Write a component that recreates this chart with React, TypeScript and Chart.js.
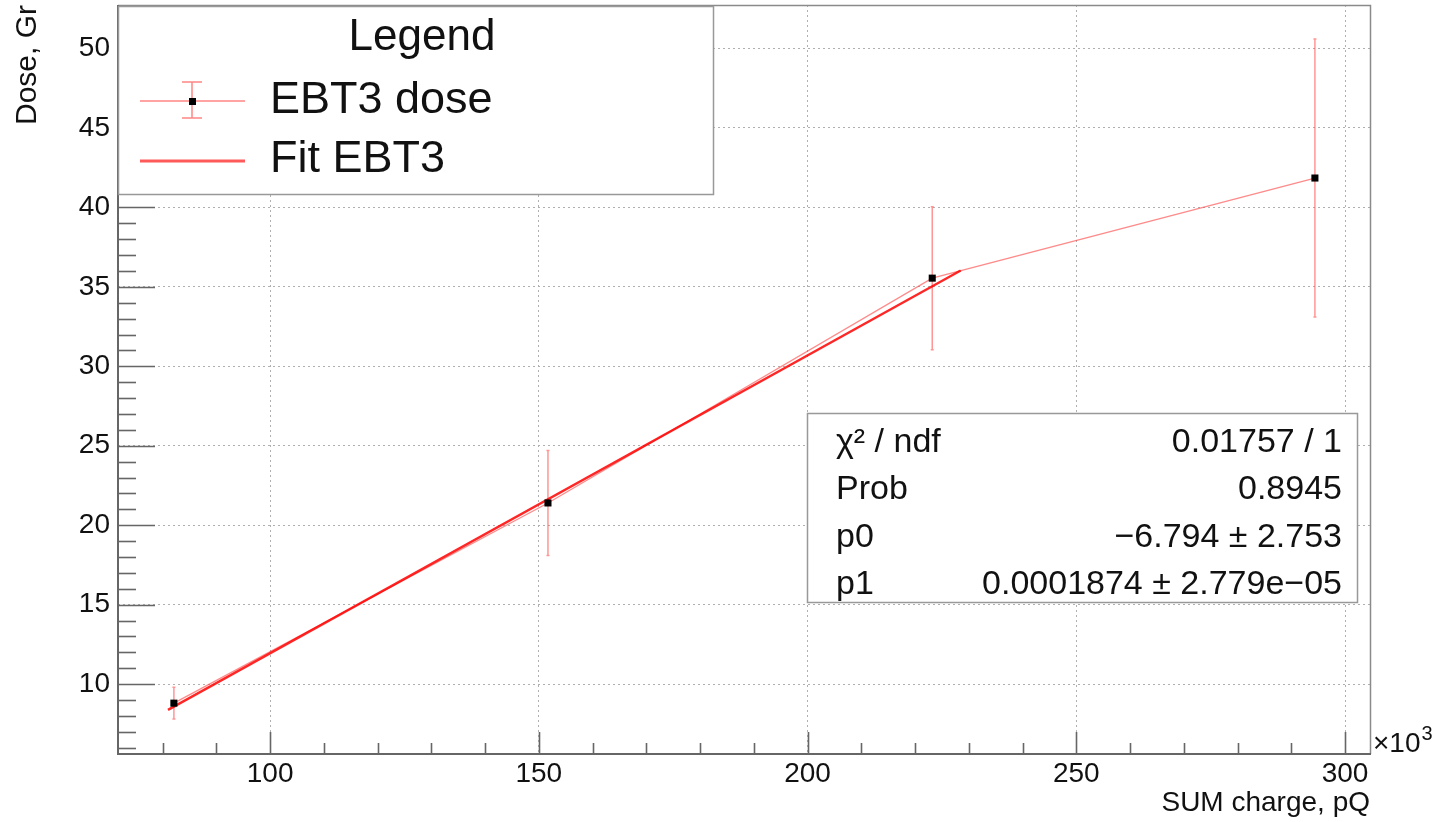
import React, { useEffect, useRef } from 'react';
import { Chart, registerables } from 'chart.js';

Chart.register(...registerables);

// ---- data ----
const chargeK = [82.1, 151.7, 223.2, 294.4]; // SUM charge, pQ (x10^3)
const dose = [8.8, 21.4, 35.55, 41.85]; // Dose, Gr
const doseErr = [1.0, 3.3, 4.5, 8.75];
const fitX = [81.0, 228.5];
const fitY = [8.38, 36.03];
const xMajorTicks = [100, 150, 200, 250, 300];
const yMajorTicks = [10, 15, 20, 25, 30, 35, 40, 45, 50];
const statsLabels = ['χ² / ndf', 'Prob', 'p0', 'p1'];
const statsValues = ['0.01757 / 1', '0.8945', '−6.794 ± 2.753', '0.0001874 ± 2.779e−05'];
const legendTitle = 'Legend';
const legendLabels = ['EBT3 dose', 'Fit EBT3'];
const xTitle = 'SUM charge, pQ';
const yTitle = 'Dose, Gr';

const FONT = '"Liberation Sans", Arial, Helvetica, sans-serif';

const rootStyle = {
  id: 'rootStyle',
  beforeDatasetsDraw(chart: any) {
    const { ctx, chartArea: a, scales } = chart;
    const x = scales.x;
    const y = scales.y;
    ctx.save();

    // tick marks (inside, ROOT style)
    ctx.strokeStyle = '#666';
    ctx.lineWidth = 1.6;
    for (let v = 80; v <= 300; v += 10) {
      const px = Math.round(x.getPixelForValue(v)) + 0.5;
      const len = v % 50 === 0 ? 22 : 11;
      ctx.beginPath();
      ctx.moveTo(px, a.bottom);
      ctx.lineTo(px, a.bottom - len);
      ctx.stroke();
    }
    for (let v = 6; v <= 52; v += 1) {
      const py = Math.round(y.getPixelForValue(v)) + 0.5;
      const len = v % 5 === 0 ? 37 : 18;
      ctx.beginPath();
      ctx.moveTo(a.left, py);
      ctx.lineTo(a.left + len, py);
      ctx.stroke();
    }

    // frame
    ctx.strokeStyle = '#8a8a8a';
    ctx.lineWidth = 1.5;
    ctx.beginPath();
    ctx.moveTo(a.left, a.top + 0.5);
    ctx.lineTo(a.right + 0.5, a.top + 0.5);
    ctx.lineTo(a.right + 0.5, a.bottom);
    ctx.stroke();
    ctx.strokeStyle = '#666';
    ctx.lineWidth = 2;
    ctx.beginPath();
    ctx.moveTo(a.left, a.top);
    ctx.lineTo(a.left, a.bottom);
    ctx.lineTo(a.right + 1, a.bottom);
    ctx.stroke();

    // error bars
    ctx.strokeStyle = 'rgba(255,80,80,0.6)';
    ctx.lineWidth = 1.5;
    chargeK.forEach((cx, i) => {
      const px = x.getPixelForValue(cx);
      const top = y.getPixelForValue(dose[i] + doseErr[i]);
      const bot = y.getPixelForValue(dose[i] - doseErr[i]);
      ctx.beginPath();
      ctx.moveTo(px, top);
      ctx.lineTo(px, bot);
      ctx.moveTo(px - 1.5, top);
      ctx.lineTo(px + 1.5, top);
      ctx.moveTo(px - 1.5, bot);
      ctx.lineTo(px + 1.5, bot);
      ctx.stroke();
    });
    ctx.restore();
  },
  afterDraw(chart: any) {
    const { ctx, chartArea: a } = chart;
    ctx.save();

    // x10^3
    ctx.fillStyle = '#111';
    ctx.textBaseline = 'alphabetic';
    ctx.textAlign = 'left';
    ctx.font = `28px ${FONT}`;
    const base = '×10';
    ctx.fillText(base, a.right + 3, a.bottom - 2);
    const w = ctx.measureText(base).width;
    ctx.font = `20px ${FONT}`;
    ctx.fillText('3', a.right + 3 + w + 1, a.bottom - 14);

    // legend box
    const lx = 118.5, ly = 6.5, lw = 595, lh = 188;
    ctx.fillStyle = '#fff';
    ctx.fillRect(lx, ly, lw, lh);
    ctx.strokeStyle = '#999';
    ctx.lineWidth = 1.5;
    ctx.strokeRect(lx, ly, lw, lh);

    ctx.fillStyle = '#111';
    ctx.font = `44px ${FONT}`;
    ctx.textAlign = 'center';
    ctx.fillText(legendTitle, 422, 50);
    ctx.font = `45px ${FONT}`;
    ctx.textAlign = 'left';
    ctx.fillText(legendLabels[0], 270, 113);
    ctx.fillText(legendLabels[1], 270, 172);

    // symbol: graph with error bar
    ctx.strokeStyle = 'rgba(255,80,80,0.7)';
    ctx.lineWidth = 1.5;
    ctx.beginPath();
    ctx.moveTo(140, 101);
    ctx.lineTo(245, 101);
    ctx.moveTo(192, 82);
    ctx.lineTo(192, 118);
    ctx.moveTo(182, 82);
    ctx.lineTo(202, 82);
    ctx.moveTo(182, 118);
    ctx.lineTo(202, 118);
    ctx.stroke();
    ctx.fillStyle = '#000';
    ctx.fillRect(189, 98, 7, 7);
    // symbol: fit line
    ctx.strokeStyle = '#ff5a5a';
    ctx.lineWidth = 3;
    ctx.beginPath();
    ctx.moveTo(140, 161);
    ctx.lineTo(245, 161);
    ctx.stroke();

    // stats box
    const sx = 807.5, sy = 413.5, sw = 550, sh = 189;
    ctx.fillStyle = '#fff';
    ctx.fillRect(sx, sy, sw, sh);
    ctx.strokeStyle = '#999';
    ctx.lineWidth = 1.5;
    ctx.strokeRect(sx, sy, sw, sh);
    ctx.fillStyle = '#111';
    ctx.font = `34px ${FONT}`;
    const baselines = [452, 499, 547, 594];
    statsLabels.forEach((t, i) => {
      ctx.textAlign = 'left';
      ctx.fillText(t, 836, baselines[i]);
      ctx.textAlign = 'right';
      ctx.fillText(statsValues[i], 1342, baselines[i]);
    });
    ctx.restore();
  },
};

export default function App() {
  const ref = useRef<HTMLCanvasElement | null>(null);

  useEffect(() => {
    const canvas = ref.current;
    if (!canvas) return;
    const chart = new Chart(canvas, {
      type: 'scatter',
      data: {
        datasets: [
          {
            label: 'EBT3 dose',
            data: chargeK.map((v, i) => ({ x: v, y: dose[i] })),
            showLine: false,
            pointStyle: 'rect',
            pointRadius: 5,
            pointBackgroundColor: '#000',
            pointBorderWidth: 0,
          },
          {
            label: 'Fit EBT3',
            data: fitX.map((v, i) => ({ x: v, y: fitY[i] })),
            showLine: true,
            borderColor: 'rgba(255,0,0,0.85)',
            borderWidth: 2.4,
            pointRadius: 0,
          },
          {
            label: 'graph line',
            data: chargeK.map((v, i) => ({ x: v, y: dose[i] })),
            showLine: true,
            borderColor: 'rgba(255,60,60,0.6)',
            borderWidth: 1.3,
            pointRadius: 0,
          },
        ],
      },
      options: {
        responsive: false,
        animation: false,
        devicePixelRatio: 1,
        layout: { padding: { left: 0, top: 5, right: 72, bottom: 0 } },
        plugins: {
          legend: { display: false },
          tooltip: { enabled: false },
        },
        scales: {
          x: {
            type: 'linear',
            min: 71.7,
            max: 304.65,
            afterBuildTicks: (s: any) => {
              s.ticks = xMajorTicks.map((v) => ({ value: v }));
            },
            afterFit: (s: any) => {
              s.height = 68;
              s.paddingLeft = 0;
              s.paddingRight = 0;
            },
            ticks: {
              autoSkip: false,
              maxRotation: 0,
              padding: 3,
              color: '#111',
              font: { family: FONT, size: 28 },
              callback: (v: any) => String(v),
            },
            grid: {
              drawTicks: false,
              color: '#b0b0b0',
              lineWidth: 1,
            },
            border: { display: false, dash: [2, 3] },
            title: {
              display: true,
              text: xTitle,
              align: 'end',
              color: '#111',
              font: { family: FONT, size: 28 },
              padding: { top: 0, bottom: 2 },
            },
          },
          y: {
            type: 'linear',
            min: 5.6,
            max: 52.74,
            afterBuildTicks: (s: any) => {
              s.ticks = yMajorTicks.map((v) => ({ value: v }));
            },
            afterFit: (s: any) => {
              s.width = 118;
              s.paddingTop = 0;
              s.paddingBottom = 0;
            },
            ticks: {
              autoSkip: false,
              padding: 8,
              color: '#111',
              font: { family: FONT, size: 28 },
              callback: (v: any) => String(v),
            },
            grid: {
              drawTicks: false,
              color: '#b0b0b0',
              lineWidth: 1,
            },
            border: { display: false, dash: [2, 3] },
            title: {
              display: true,
              text: yTitle,
              align: 'end',
              color: '#111',
              font: { family: FONT, size: 30 },
              padding: { top: 10, bottom: 0 },
            },
          },
        },
      },
      plugins: [rootStyle],
    });
    return () => chart.destroy();
  }, []);

  return (
    <div style={{ position: 'fixed', left: 0, top: 0, width: 1442, height: 822, background: '#fff' }}>
      <canvas ref={ref} width={1442} height={822} style={{ width: 1442, height: 822, display: 'block' }} />
    </div>
  );
}
